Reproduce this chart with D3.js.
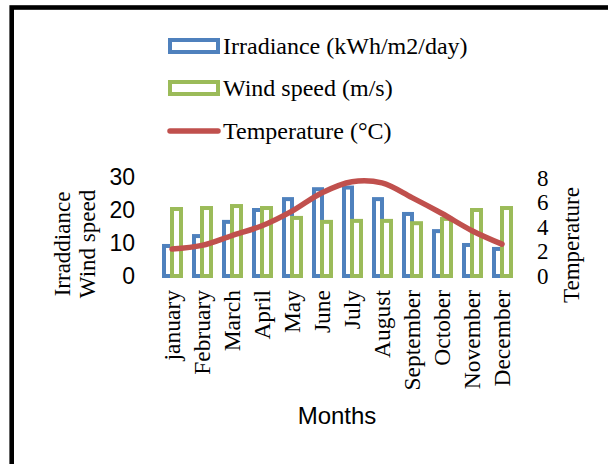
<!DOCTYPE html>
<html>
<head>
<meta charset="utf-8">
<script src="https://cdn.jsdelivr.net/npm/d3@7"></script>
<style>
  html, body { margin: 0; padding: 0; background: #fff; }
  svg { display: block; }
  .serif { font-family: "Liberation Serif", "Times New Roman", serif; fill: #000; }
  .sans { font-family: "Liberation Sans", Arial, sans-serif; fill: #000; }
</style>
</head>
<body>
<svg id="chart" width="608" height="464"></svg>
<script>
// Monthly climate data
const months = ["january", "February", "March", "April", "May", "June",
                "July", "August", "September", "October", "November", "December"];
const irradiance = [9.1, 12.1, 16.4, 20.0, 23.3, 26.3, 26.8, 23.3, 18.8, 13.6, 9.4, 8.2];
const windSpeed  = [20.3, 20.6, 21.2, 20.6, 17.6, 16.4, 16.7, 16.7, 16.0, 17.3, 20.0, 20.6];
const temperature = [2.2, 2.5, 3.3, 4.1, 5.3, 6.8, 7.7, 7.6, 6.4, 5.1, 3.7, 2.6];
const leftTicks = [0, 10, 20, 30];
const rightTicks = [0, 2, 4, 6, 8];
const legendItems = ["Irradiance (kWh/m2/day)", "Wind speed (m/s)", "Temperature (°C)"];

const BLUE = "#4F81BD", GREEN = "#9BBB59", RED = "#C0504D";
const SERIF = "'Liberation Serif', 'Times New Roman', serif";
const SANS = "'Liberation Sans', Arial, sans-serif";

const svg = d3.select("#chart");

// outer frame (runs off the right and bottom edges)
svg.append("rect")
  .attr("x", 11.7).attr("y", 7.5)
  .attr("width", 640).attr("height", 500)
  .attr("fill", "none").attr("stroke", "#000").attr("stroke-width", 4.6);

const x = d3.scaleBand().domain(months).range([157, 517]).padding(0);
const yL = d3.scaleLinear().domain([0, 30]).range([276, 177]);
const yR = d3.scaleLinear().domain([0, 8]).range([276, 178]);

const cx = m => x(m) + x.bandwidth() / 2;

// irradiance bars (behind)
svg.append("g").selectAll("rect").data(months).join("rect")
  .attr("x", m => cx(m) - 8)
  .attr("width", 8)
  .attr("y", (m, i) => yL(irradiance[i]))
  .attr("height", (m, i) => yL(0) - yL(irradiance[i]))
  .attr("fill", "#fff").attr("stroke", BLUE).attr("stroke-width", 4);

// wind speed bars (front)
svg.append("g").selectAll("rect").data(months).join("rect")
  .attr("x", m => cx(m))
  .attr("width", 9)
  .attr("y", (m, i) => yL(windSpeed[i]))
  .attr("height", (m, i) => yL(0) - yL(windSpeed[i]))
  .attr("fill", "#fff").attr("stroke", GREEN).attr("stroke-width", 4);

// temperature line on the secondary axis
const line = d3.line()
  .x((d, i) => cx(months[i]))
  .y(d => yR(d))
  .curve(d3.curveCatmullRom.alpha(0.5));
svg.append("path").datum(temperature)
  .attr("d", line)
  .attr("fill", "none").attr("stroke", RED)
  .attr("stroke-width", 5.5).attr("stroke-linecap", "round").attr("stroke-linejoin", "round");

// left axis labels
const axL = d3.axisLeft(yL).tickValues(leftTicks).tickSize(0).tickPadding(0);
const gL = svg.append("g").attr("transform", "translate(135,0)").call(axL);
gL.select(".domain").remove();
gL.selectAll("text").attr("font-size", 23).attr("fill", "#000").attr("font-family", SANS);

// right axis labels
const axR = d3.axisRight(yR).tickValues(rightTicks).tickSize(0).tickPadding(0);
const gR = svg.append("g").attr("transform", "translate(537,0)").call(axR);
gR.select(".domain").remove();
gR.selectAll("text").attr("font-size", 23).attr("fill", "#000").attr("font-family", SERIF);

// month labels, rotated
const axB = d3.axisBottom(x).tickSize(0).tickPadding(0);
const gB = svg.append("g").attr("transform", "translate(0,290)").call(axB);
gB.select(".domain").remove();
gB.selectAll("text")
  .attr("font-size", 23.5).attr("fill", "#000").attr("font-family", SERIF)
  .attr("text-anchor", "end")
  .attr("dy", "0.32em")
  .attr("transform", "rotate(-90)")
  .attr("x", 0).attr("y", 0);

// axis titles
svg.append("text").attr("class", "sans").attr("font-size", 24)
  .attr("text-anchor", "middle").attr("x", 337).attr("y", 424).text("Months");

svg.append("text").attr("class", "serif").attr("font-size", 23)
  .attr("text-anchor", "middle")
  .attr("transform", "translate(70,244) rotate(-90)").text("Irraddiance");
svg.append("text").attr("class", "serif").attr("font-size", 23)
  .attr("text-anchor", "middle")
  .attr("transform", "translate(95,244) rotate(-90)").text("Wind speed");
svg.append("text").attr("class", "serif").attr("font-size", 23)
  .attr("text-anchor", "middle")
  .attr("transform", "translate(579,245) rotate(-90)").text("Temperature");

// legend
const legendY = [46, 88, 131];
const lg = svg.append("g");
lg.append("rect").attr("x", 170).attr("y", legendY[0] - 6).attr("width", 48).attr("height", 12)
  .attr("fill", "#fff").attr("stroke", BLUE).attr("stroke-width", 4);
lg.append("rect").attr("x", 170).attr("y", legendY[1] - 6).attr("width", 48).attr("height", 12)
  .attr("fill", "#fff").attr("stroke", GREEN).attr("stroke-width", 4);
lg.append("line").attr("x1", 170).attr("x2", 218).attr("y1", legendY[2]).attr("y2", legendY[2])
  .attr("stroke", RED).attr("stroke-width", 5.5).attr("stroke-linecap", "round");
lg.selectAll("text.leg").data(legendItems).join("text")
  .attr("class", "serif leg").attr("font-size", 24)
  .attr("x", 223).attr("y", (d, i) => legendY[i]).attr("dy", "0.35em")
  .text(d => d);
</script>
</body>
</html>
